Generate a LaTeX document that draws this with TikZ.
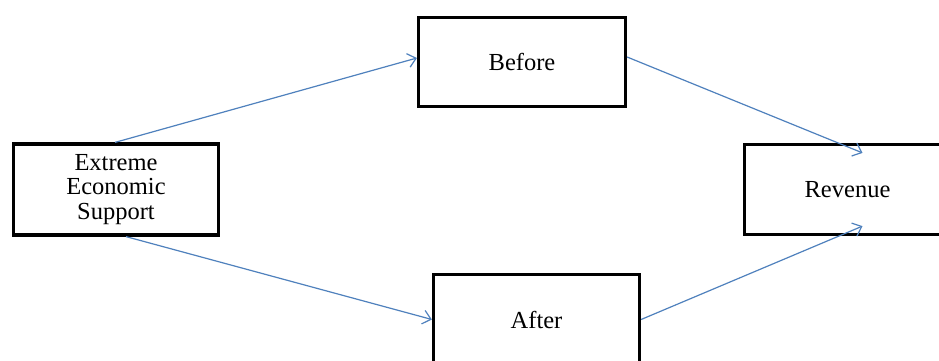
\documentclass[tikz,border=0pt]{standalone}
\usepackage{fontspec}
\setmainfont{Liberation Serif}
\usetikzlibrary{arrows.meta}
\definecolor{linkblue}{RGB}{79,129,189}
\begin{document}
\begin{tikzpicture}[x=1pt,y=-1pt,
  box/.style={draw=black,line width=3.2pt,rectangle,inner sep=0pt,align=center,
    font=\fontsize{24.5}{24.5}\selectfont},
  link/.style={draw=linkblue,line width=1.2pt,-{Straight Barb[length=8pt,width=14pt,line width=1.2pt]}}]
\useasboundingbox[fill=white] (0,0) rectangle (939,361);
\node[box,minimum width=205pt,minimum height=91pt] (ees) at (116,189.5) {Extreme\\Economic\\Support};
\node[box,minimum width=207pt,minimum height=89pt] (before) at (522,62) {Before};
\node[box,minimum width=206pt,minimum height=90pt] (after) at (536.5,319.5) {After};
\node[box,minimum width=206pt,minimum height=90pt] (rev) at (847.5,189.5) {Revenue};
\draw[link] ([xshift=-1pt]ees.north) -- ([yshift=4pt]before.west);
\draw[link] ([yshift=5pt]before.east) -- ([xshift=15pt,yshift=-10pt]rev.north);
\draw[link] ([xshift=10pt]ees.south) -- (after.west);
\draw[link] (after.east) -- ([xshift=15pt,yshift=10pt]rev.south);
\end{tikzpicture}
\end{document}
